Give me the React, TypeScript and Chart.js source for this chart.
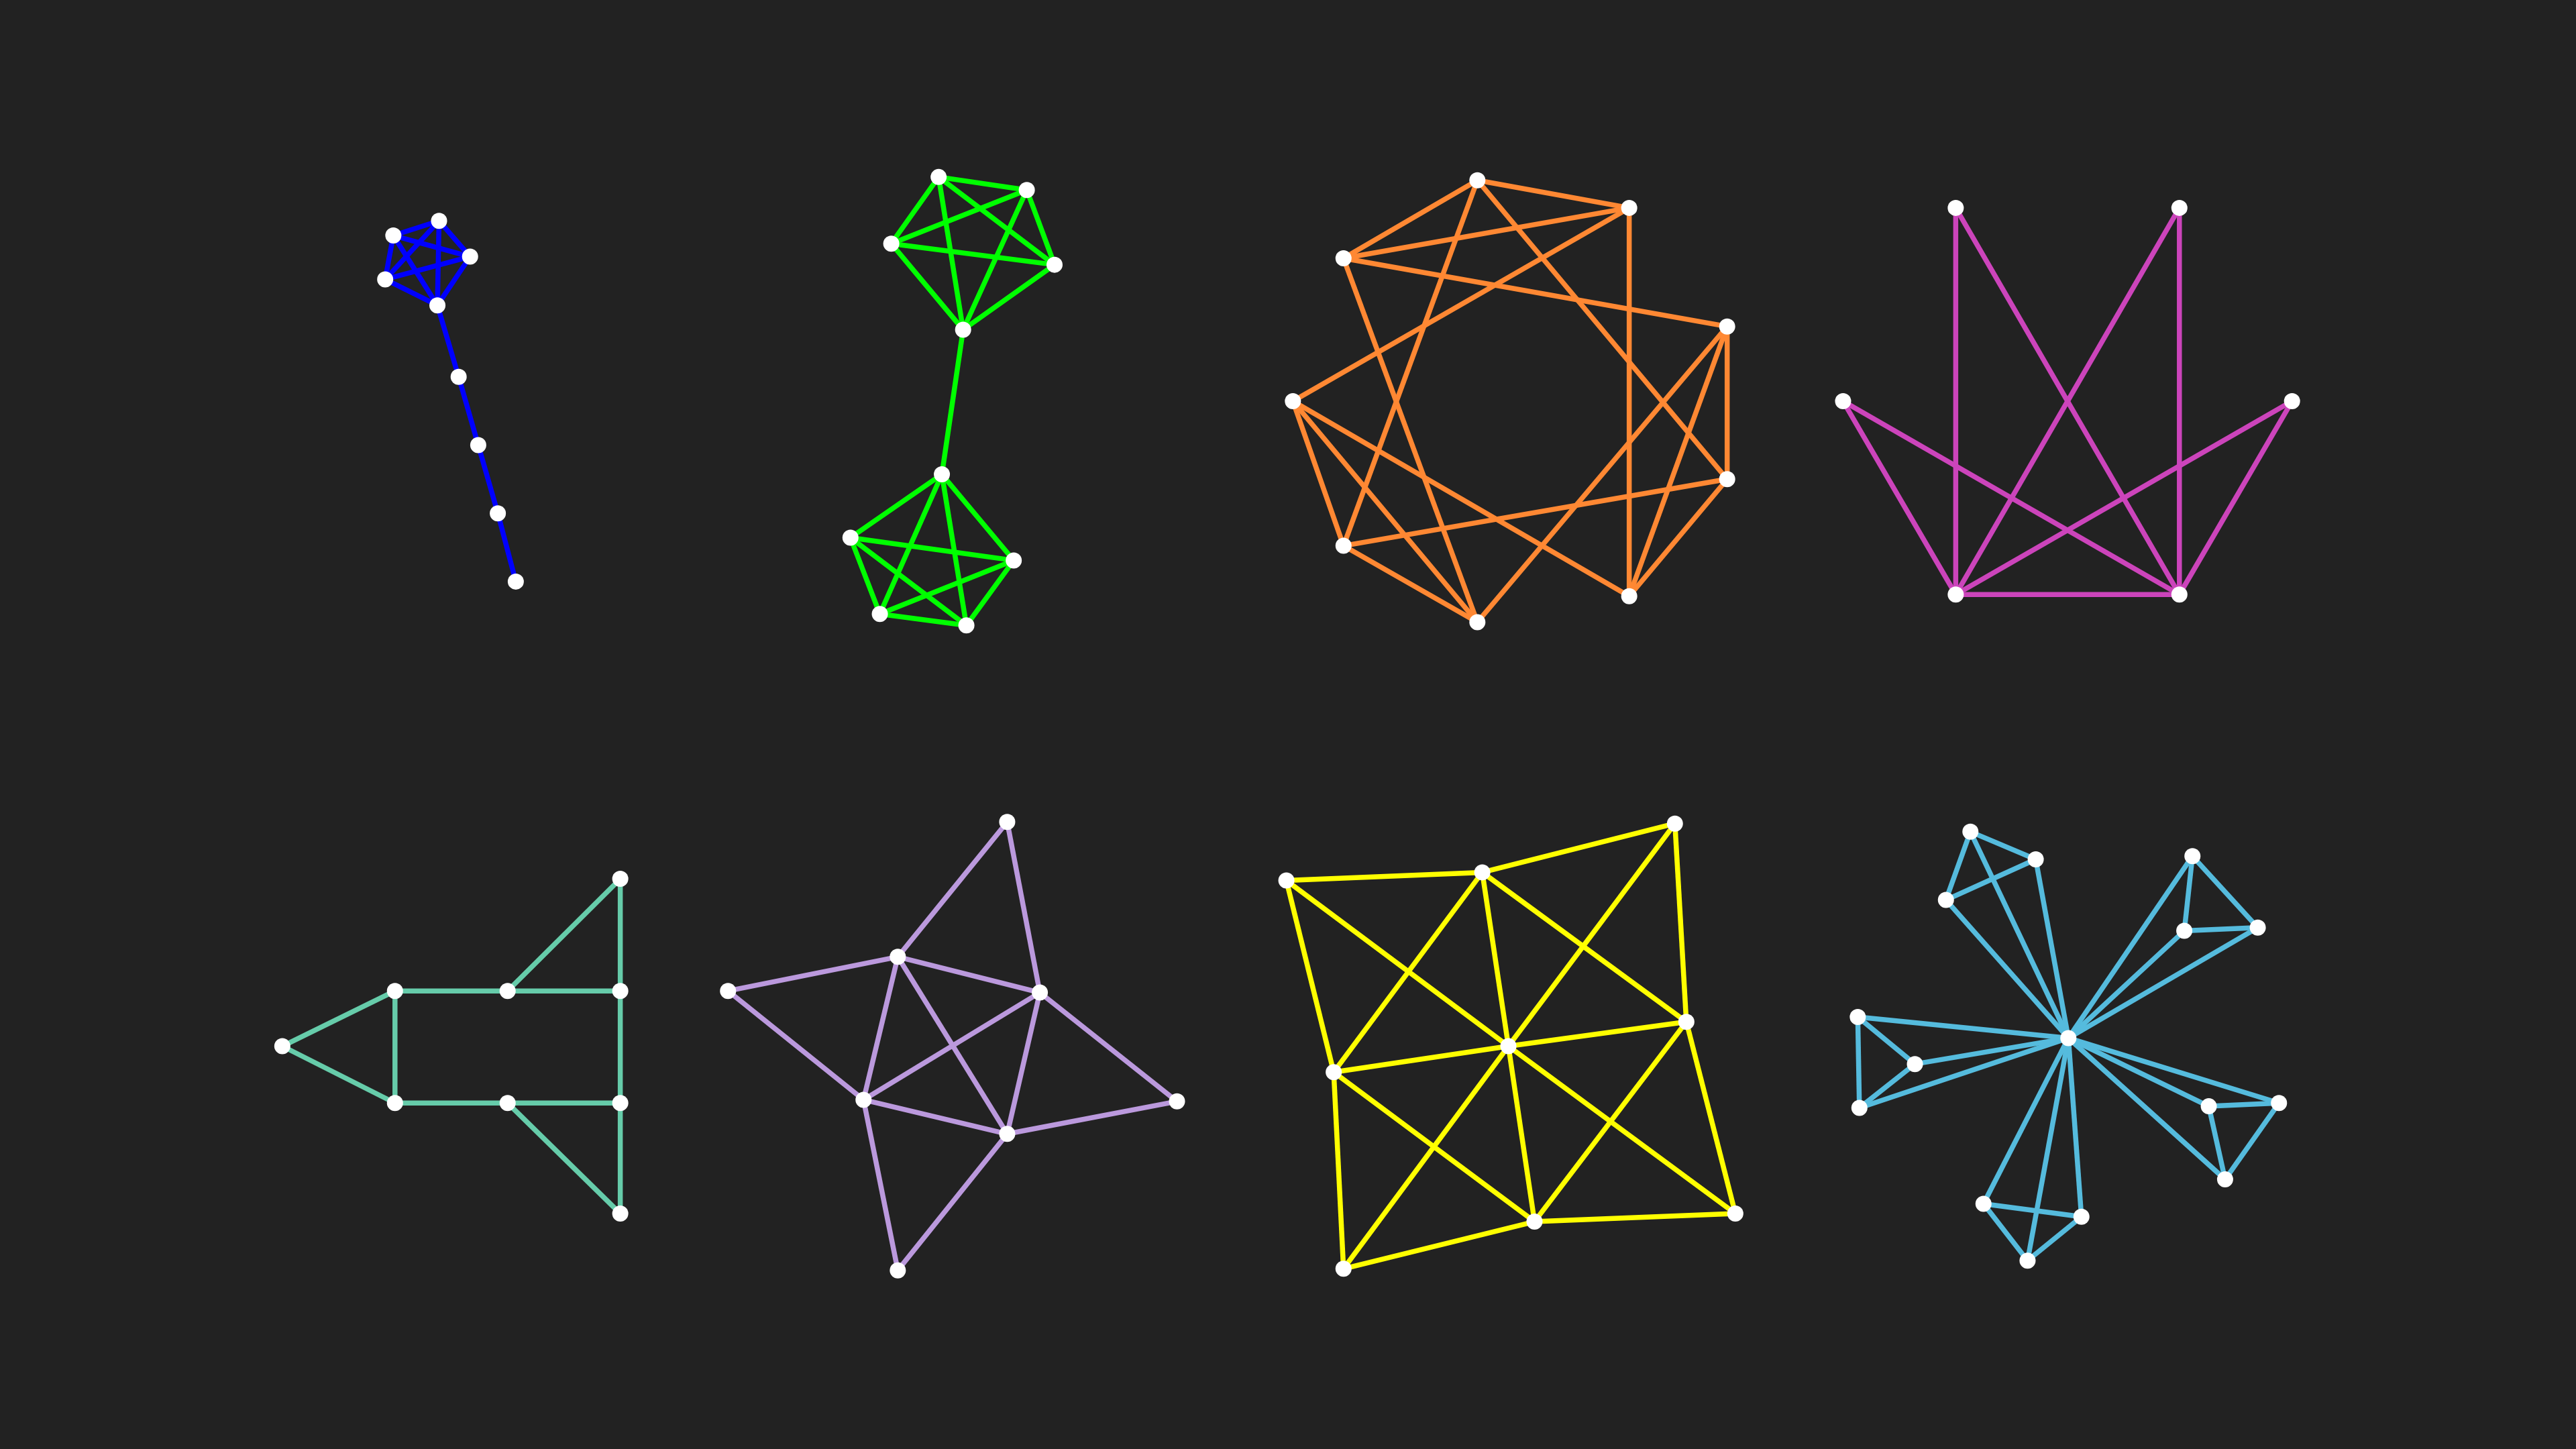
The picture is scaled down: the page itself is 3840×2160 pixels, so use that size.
import { useEffect, useRef } from "react";
import { Chart, registerables } from "chart.js";

Chart.register(...registerables);

type P = [number, number];
type E = [number, number];

// node positions (reference units, 1568 x 882) and edge lists per graph
const lollipopNodes: P[] = [[236, 140], [264, 131], [283, 153], [263, 183], [231, 167], [276, 227], [288, 269], [300, 311], [311, 353]];
const lollipopEdges: E[] = [[0, 1], [0, 2], [0, 3], [0, 4], [1, 2], [1, 3], [1, 4], [2, 3], [2, 4], [3, 4], [3, 5], [5, 6], [6, 7], [7, 8]];

const barbellNodes: P[] = [[570, 104], [624, 112], [641, 158], [585, 198], [541, 145], [572, 287], [616, 340], [587, 380], [534, 373], [516, 326]];
const barbellEdges: E[] = [[0, 1], [0, 2], [0, 3], [0, 4], [1, 2], [1, 3], [1, 4], [2, 3], [2, 4], [3, 4],
  [5, 6], [5, 7], [5, 8], [5, 9], [6, 7], [6, 8], [6, 9], [7, 8], [7, 9], [8, 9], [3, 5]];

const ringNodes: P[] = [[900, 106], [993, 123], [1053, 196], [1053, 290], [993, 362], [900, 378], [818, 331], [787, 242], [818, 154]];
const ringEdges: E[] = [[0, 1], [0, 8], [0, 3], [0, 6], [1, 8], [1, 7], [1, 4], [2, 8], [2, 3], [2, 4], [2, 5],
  [3, 4], [3, 6], [4, 7], [5, 7], [5, 8], [5, 6], [6, 7]];

const crownNodes: P[] = [[1193, 123], [1330, 123], [1124, 242], [1399, 242], [1193, 361], [1330, 361]];
const crownEdges: E[] = [[0, 4], [0, 5], [1, 5], [1, 4], [2, 4], [2, 5], [3, 5], [3, 4], [4, 5]];

const arrowNodes: P[] = [[168, 639], [237, 605], [237, 674], [306, 605], [306, 674], [375, 536], [375, 605], [375, 674], [375, 742]];
const arrowEdges: E[] = [[0, 1], [0, 2], [1, 2], [1, 3], [3, 6], [3, 5], [5, 6], [6, 7], [2, 4], [4, 7], [4, 8], [7, 8]];

const starNodes: P[] = [[612, 501], [545, 584], [632, 606], [524, 672], [612, 693], [441, 605], [716, 673], [545, 777]];
const starEdges: E[] = [[0, 1], [0, 2], [5, 1], [5, 3], [1, 2], [1, 3], [1, 4], [2, 3], [2, 4], [2, 6], [3, 4], [4, 6], [3, 7], [4, 7]];

const gridNodes: P[] = [[783, 537], [903, 532], [1021, 502], [812, 655], [919, 639], [1028, 624], [818, 776], [935, 747], [1058, 742]];
const gridEdges: E[] = [[0, 1], [1, 2], [0, 3], [2, 5], [3, 6], [5, 8], [6, 7], [7, 8],
  [0, 4], [1, 4], [2, 4], [3, 4], [5, 4], [6, 4], [7, 4], [8, 4], [1, 3], [1, 5], [3, 7], [5, 7]];

const windmillNodes: P[] = [[1262, 634], [1202, 507], [1242, 524], [1187, 549], [1338, 522], [1333, 568], [1378, 566],
  [1133, 621], [1168, 650], [1134, 677], [1348, 676], [1391, 674], [1358, 721], [1210, 736], [1270, 744], [1237, 771]];
const windmillEdges: E[] = [];
for (let g = 0; g < 5; g++) {
  const a = 1 + g * 3;
  windmillEdges.push([a, a + 1], [a, a + 2], [a + 1, a + 2], [0, a], [0, a + 1], [0, a + 2]);
}

const graphs: { nodes: P[]; edges: E[]; color: string }[] = [
  { nodes: lollipopNodes, edges: lollipopEdges, color: "#0000ff" },
  { nodes: barbellNodes, edges: barbellEdges, color: "#00ff00" },
  { nodes: ringNodes, edges: ringEdges, color: "#ff8833" },
  { nodes: crownNodes, edges: crownEdges, color: "#cc44bb" },
  { nodes: arrowNodes, edges: arrowEdges, color: "#66ccaa" },
  { nodes: starNodes, edges: starEdges, color: "#bb99dd" },
  { nodes: gridNodes, edges: gridEdges, color: "#ffff00" },
  { nodes: windmillNodes, edges: windmillEdges, color: "#55bbdd" },
];

export default function App() {
  const canvasRef = useRef<HTMLCanvasElement>(null);

  useEffect(() => {
    document.body.style.margin = "0";
    document.body.style.background = "#222222";
    if (!canvasRef.current) return;

    const datasets: any[] = [];
    // one dataset per edge
    graphs.forEach((g) => {
      g.edges.forEach(([a, b]) => {
        datasets.push({
          data: [{ x: g.nodes[a][0], y: g.nodes[a][1] }, { x: g.nodes[b][0], y: g.nodes[b][1] }],
          showLine: true, borderColor: g.color, borderWidth: 7.5, pointRadius: 0, order: 2,
        });
      });
    });
    // white node markers on top
    graphs.forEach((g) => {
      datasets.push({
        data: g.nodes.map(([x, y]) => ({ x, y })), showLine: false,
        pointRadius: 12, pointBackgroundColor: "#ffffff", pointBorderWidth: 0, order: 1,
      });
    });

    const chart = new Chart(canvasRef.current, {
      type: "scatter",
      data: { datasets },
      options: {
        animation: false,
        responsive: true,
        maintainAspectRatio: false,
        layout: { padding: 0 },
        plugins: { legend: { display: false }, tooltip: { enabled: false } },
        scales: {
          x: { type: "linear", min: 0, max: 1568, display: false },
          y: { type: "linear", min: 0, max: 882, reverse: true, display: false },
        },
      },
    });
    return () => chart.destroy();
  }, []);

  return (
    <div style={{ width: 3840, height: 2160, background: "#222222", position: "relative" }}>
      <canvas ref={canvasRef} />
    </div>
  );
}
